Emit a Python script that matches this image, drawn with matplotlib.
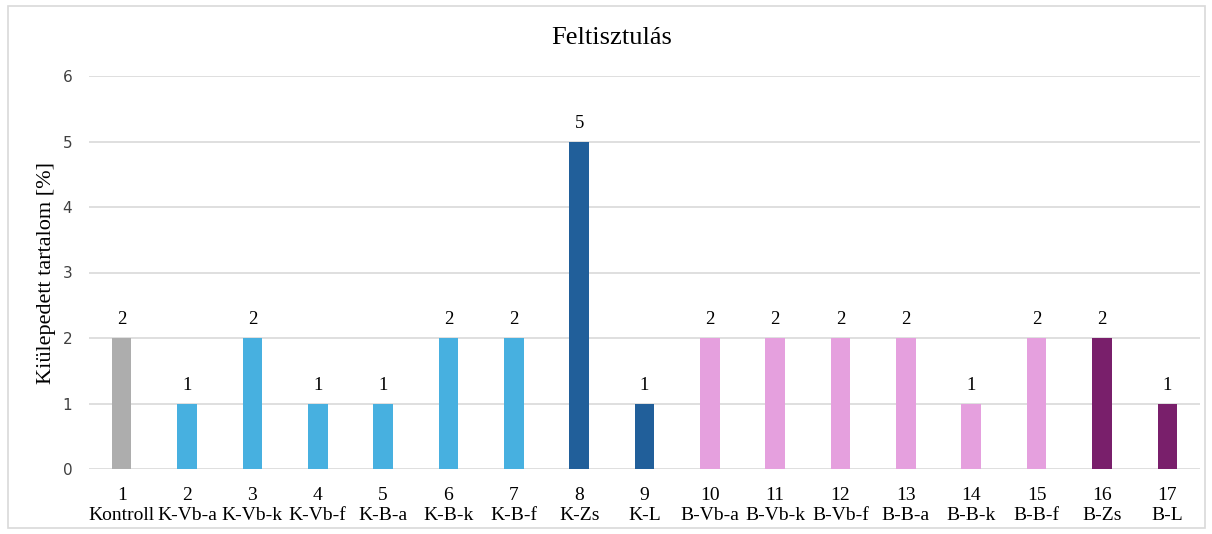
import matplotlib.pyplot as plt
from matplotlib.patches import Rectangle

numbers = [str(i) for i in range(1, 18)]
names = ["Kontroll", "K-Vb-a", "K-Vb-k", "K-Vb-f", "K-B-a", "K-B-k", "K-B-f", "K-Zs", "K-L",
         "B-Vb-a", "B-Vb-k", "B-Vb-f", "B-B-a", "B-B-k", "B-B-f", "B-Zs", "B-L"]
values = [2, 1, 2, 1, 1, 2, 2, 5, 1, 2, 2, 2, 2, 1, 2, 2, 1]
colors = ["#ADADAD"] + ["#47B0E0"] * 6 + ["#215F9A"] * 2 + ["#E5A0DE"] * 6 + ["#791F6B"] * 2

serif = "Liberation Serif"

fig = plt.figure(figsize=(12.12, 5.34), dpi=100)
ax = fig.add_axes([89 / 1212, 1 - 469 / 534, (1200 - 89) / 1212, (469 - 76) / 534])

x = list(range(len(values)))
bars = ax.bar(x, values, width=0.3, color=colors, zorder=3)
for xi, v in zip(x, values):
    ax.text(xi, v + 0.15, str(v), ha="center", va="bottom", family=serif, fontsize=13.5)

ax.set_xlim(-0.5, len(values) - 0.5)
ax.set_ylim(0, 6)
ax.set_yticks(range(0, 7))
ax.yaxis.grid(True, color="#D9D9D9", linewidth=1.2, zorder=0)
ax.tick_params(axis="y", length=0, pad=12, labelsize=11, labelcolor="#404040")
ax.tick_params(axis="x", length=0, pad=13)
ax.set_xticks(x)
ax.set_xticklabels([n + "\n" + m for n, m in zip(numbers, names)], family=serif, fontsize=14, linespacing=1.2)
for s in ax.spines.values():
    s.set_visible(False)

ax.set_ylabel("Kiülepedett tartalom [%]", family=serif, fontsize=16, labelpad=5)
fig.text(612 / 1212, 1 - 38 / 534, "Feltisztulás", family=serif, fontsize=19, ha="center", va="center")

fig.patches.append(Rectangle((8 / 1212, 6 / 534), 1197 / 1212, 522 / 534, transform=fig.transFigure,
                             fill=False, edgecolor="#D9D9D9", linewidth=1.2))

fig.savefig("out.png", dpi=100)
